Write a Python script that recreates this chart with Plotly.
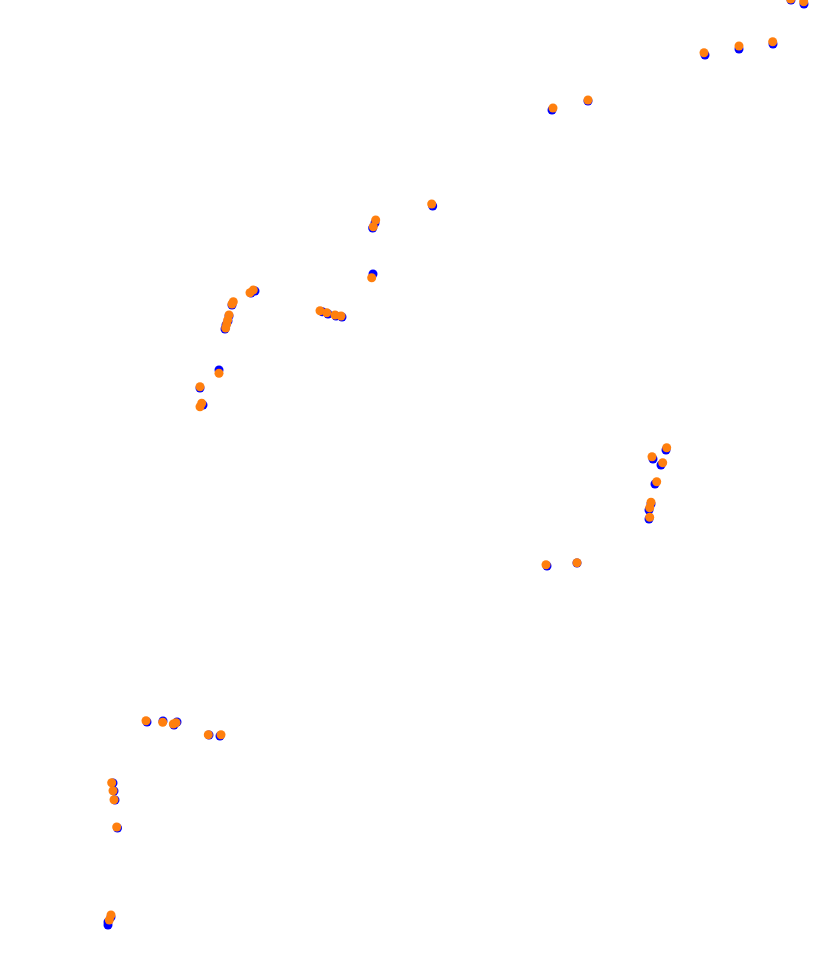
import plotly.graph_objects as go

# Series A (blue) - positions
blue_x = [705, 739, 773, 804, 552, 588, 432.7, 375, 372.7, 373, 255, 251, 232, 229, 228, 226, 225, 322.3, 328, 336, 342,
          219, 200, 203, 147, 163, 174, 177, 209, 220, 113, 114, 115, 117.5, 111, 108, 108,
          666, 653, 661, 655, 651, 649, 649, 547, 577, 791]
blue_y = [55, 49, 44, 4, 110, 101, 206, 223, 228, 274, 291, 293, 305, 316, 321, 325, 329, 311.7, 314, 316, 317,
          370, 388, 405, 722, 721, 725, 722, 735, 736, 783, 791, 800, 828, 917, 922, 925,
          450, 459, 465, 484, 504, 510, 519, 566, 563, 0]

# Series B (orange)
orange_x = [704, 739, 772.7, 803.7, 553, 588, 431.7, 375.7, 373.3, 371.7, 253.3, 250, 233.3, 232, 229, 227.7, 226.7, 225.7,
            320, 326.7, 335, 341, 219, 200, 201.7, 200, 146, 162.7, 173.3, 176, 208.3, 221, 111.7, 113, 114, 116.7,
            111, 109.3, 666.7, 652, 662.7, 656.7, 651, 649.7, 649.7, 546, 577, 790.7]
orange_y = [52.7, 46, 41.7, 1.7, 108, 100, 204, 220, 226.7, 277.7, 290, 292.7, 301.7, 304, 315, 320, 324, 328,
            310.7, 312.7, 315, 316, 373.3, 386.7, 403.3, 406.7, 720.7, 722.3, 724, 722.7, 734.7, 734.7, 782.7, 790.7, 799.7, 827,
            915, 920, 447.7, 456.7, 462.7, 481.7, 502.3, 507.7, 517.3, 564.7, 562.7, -1]

fig = go.Figure()
fig.add_trace(go.Scatter(x=blue_x, y=blue_y, mode="markers",
                         marker=dict(color="#0000ff", size=9, line=dict(width=0)), showlegend=False))
fig.add_trace(go.Scatter(x=orange_x, y=orange_y, mode="markers",
                         marker=dict(color="#ff7f0e", size=9, line=dict(width=0)), showlegend=False))
fig.update_layout(width=817, height=959, margin=dict(l=0, r=0, t=0, b=0),
                  plot_bgcolor="white", paper_bgcolor="white", hovermode=False)
fig.update_xaxes(visible=False, range=[0, 817])
fig.update_yaxes(visible=False, range=[959, 0])
fig.write_html("out.html", config={"displayModeBar": False},
               post_script="document.body.style.margin='0';document.body.style.overflow='hidden';")
